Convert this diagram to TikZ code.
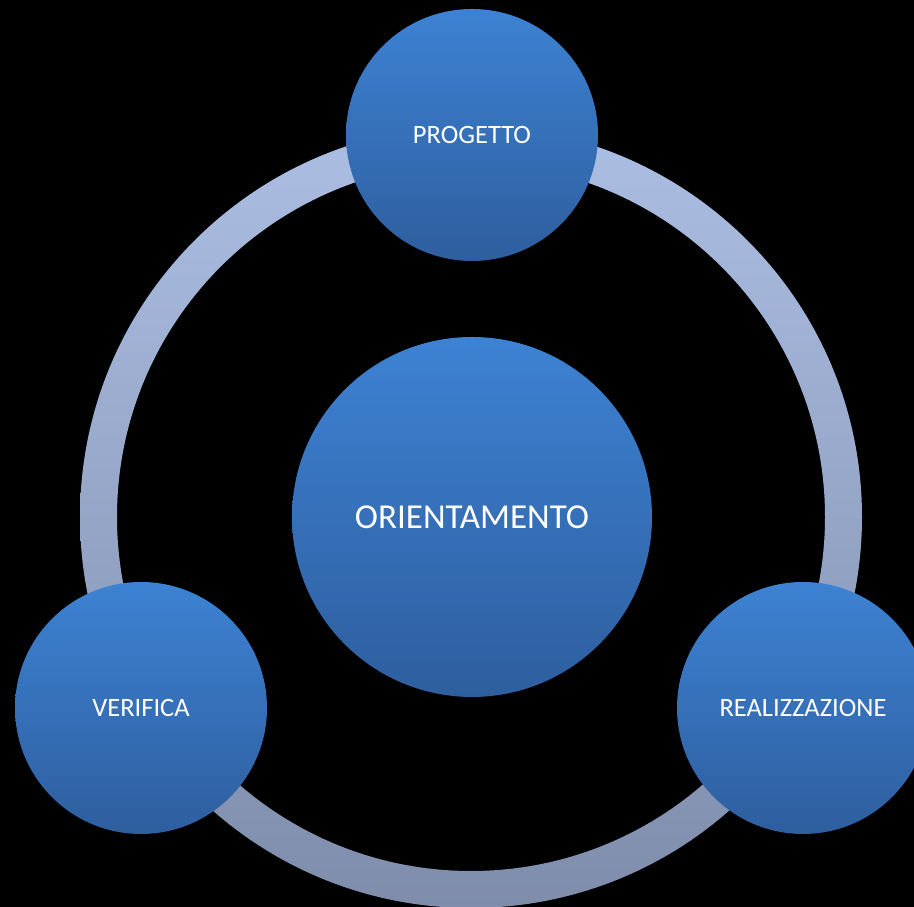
\documentclass[tikz,border=0pt]{standalone}
\usepackage{fontspec}
\setmainfont{Carlito}
\usepackage{xcolor}
\usepackage{tikz}

\definecolor{ringtop}{HTML}{ABBEE3}
\definecolor{ringbot}{HTML}{7F8DAB}
\definecolor{balltop}{HTML}{3D82D3}
\definecolor{ballbot}{HTML}{2E5E9E}

\tikzset{
  ball/.style={circle,inner sep=0pt,top color=balltop,bottom color=ballbot,text=white},
}

\begin{document}
\begin{tikzpicture}[x=1pt,y=1pt]

 \fill[black] (0,0) rectangle (914,907);
 \useasboundingbox (0,0) rectangle (914,907);

 \coordinate (O) at (471,390);
 \path[even odd rule,top color=ringtop,bottom color=ringbot] (O) circle (391) (O) circle (354);

 \node[ball,minimum size=360pt,font=\fontsize{35}{40}\selectfont] (C) at (472,390) {ORIENTAMENTO};
 \node[ball,minimum size=252pt,font=\fontsize{26.5}{30}\selectfont] (P) at (472,772) {PROGETTO};
 \node[ball,minimum size=252pt,font=\fontsize{26.5}{30}\selectfont] (V) at (141,199) {VERIFICA};
 \node[ball,minimum size=252pt,font=\fontsize{26.5}{30}\selectfont] (R) at (803,199) {REALIZZAZIONE};

\end{tikzpicture}
\end{document}
